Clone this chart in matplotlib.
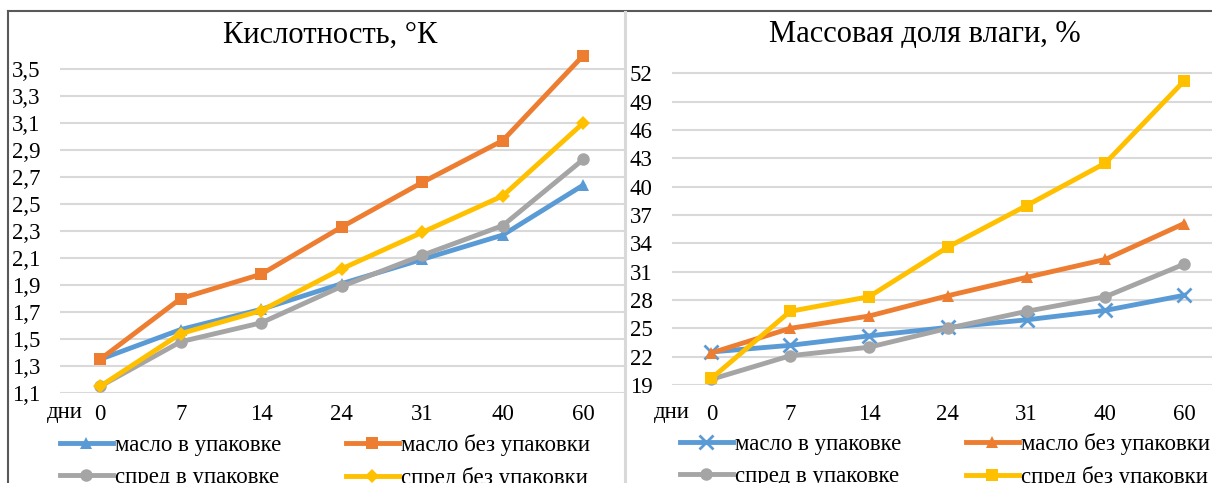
import matplotlib.pyplot as plt
from matplotlib.lines import Line2D

plt.rcParams['font.family'] = ['Liberation Serif', 'DejaVu Serif']

days = ["0", "7", "14", "24", "31", "40", "60"]
series_names = ["масло в упаковке", "масло без упаковки", "спред в упаковке", "спред без упаковки"]

# кислотность, °К
acid_butter_pack = [1.35, 1.57, 1.72, 1.91, 2.09, 2.27, 2.64]
acid_butter_open = [1.35, 1.80, 1.98, 2.33, 2.66, 2.97, 3.60]
acid_spread_pack = [1.15, 1.48, 1.62, 1.89, 2.12, 2.34, 2.83]
acid_spread_open = [1.15, 1.54, 1.71, 2.02, 2.29, 2.56, 3.10]
acid_ticks = [1.1, 1.3, 1.5, 1.7, 1.9, 2.1, 2.3, 2.5, 2.7, 2.9, 3.1, 3.3, 3.5]

# массовая доля влаги, %
moist_butter_pack = [22.5, 23.2, 24.2, 25.1, 25.9, 26.9, 28.5]
moist_butter_open = [22.4, 25.0, 26.3, 28.45, 30.4, 32.3, 36.1]
moist_spread_pack = [19.6, 22.1, 23.0, 25.0, 26.8, 28.35, 31.8]
moist_spread_open = [19.7, 26.8, 28.35, 33.6, 38.0, 42.5, 51.2]
moist_ticks = [19, 22, 25, 28, 31, 34, 37, 40, 43, 46, 49, 52]

colors = ["#5B9BD5", "#ED7D31", "#A5A5A5", "#FFC000"]
W, H = 1212, 483
FS = 16.5


def rect(x0, x1, ytop, ybot):
    return [x0 / W, 1 - ybot / H, (x1 - x0) / W, (ybot - ytop) / H]


fig = plt.figure(figsize=(W / 100, H / 100), dpi=100)


def draw(ax, data, markers, sizes, ticks, ylim, xpad, daylabel_x, daylabel_y, leg_x, leg_y):
    x = list(range(len(days)))
    lines = []
    for vals, c, m, ms, name in zip(data, colors, markers, sizes, series_names):
        ln, = ax.plot(x, vals, color=c, lw=3.5, marker=m, ms=ms, mew=2 if m == "x" else 0,
                      mec=c, label=name, zorder=3, clip_on=False)
        lines.append(ln)
    ax.set_xlim(-0.5, len(days) - 0.5)
    ax.set_ylim(*ylim)
    ax.set_yticks(ticks)
    ax.set_yticklabels([f"{t:g}".replace(".", ",") for t in ticks])
    ax.set_xticks(x)
    ax.set_xticklabels(days)
    ax.tick_params(length=0, labelsize=FS)
    ax.tick_params(axis="x", pad=xpad)
    ax.tick_params(axis="y", pad=14)
    for s in ax.spines.values():
        s.set_visible(False)
    ax.yaxis.grid(True, color="#D9D9D9", lw=1.5)
    ax.set_axisbelow(True)
    ax.text(daylabel_x, daylabel_y, "дни", transform=ax.transAxes, fontsize=FS, va="top", ha="right")
    order = [0, 2, 1, 3]
    ax.legend([lines[i] for i in order], [series_names[i] for i in order], ncol=2,
              loc="upper left", bbox_to_anchor=(leg_x, leg_y), frameon=False, fontsize=FS,
              handlelength=2.3, handletextpad=0.12, columnspacing=2.8, labelspacing=0.47,
              borderpad=0, borderaxespad=0)


ax1 = fig.add_axes(rect(60, 623.5, 42, 393))
draw(ax1, [acid_butter_pack, acid_butter_open, acid_spread_pack, acid_spread_open],
     ["^", "s", "o", "D"], [9, 9, 9, 7], acid_ticks, (1.1, 3.7),
     8, 0.04, -0.025, 0.0, -0.117)

ax2 = fig.add_axes(rect(672, 1223.6, 45, 385))
draw(ax2, [moist_butter_pack, moist_butter_open, moist_spread_pack, moist_spread_open],
     ["x", "^", "o", "s"], [10, 9, 9, 9], moist_ticks, (19, 55),
     14, 0.033, -0.05, 0.0145, -0.1415)

fig.text(330 / W, 1 - 35 / H, "Кислотность, °К", fontsize=22, ha="center", va="center")
fig.text(925 / W, 1 - 35 / H, "Массовая доля влаги, %", fontsize=22, ha="center", va="center")

# рамки диаграмм
fig.add_artist(Line2D([8 / W, 1], [1 - 11 / H, 1 - 11 / H], color="#595959", lw=1.5))
fig.add_artist(Line2D([8 / W, 8 / W], [0, 1 - 11 / H], color="#595959", lw=1.5))
fig.add_artist(Line2D([625 / W, 625 / W], [0, 1 - 12 / H], color="#D9D9D9", lw=2.2))

fig.savefig("out.png", dpi=100)
